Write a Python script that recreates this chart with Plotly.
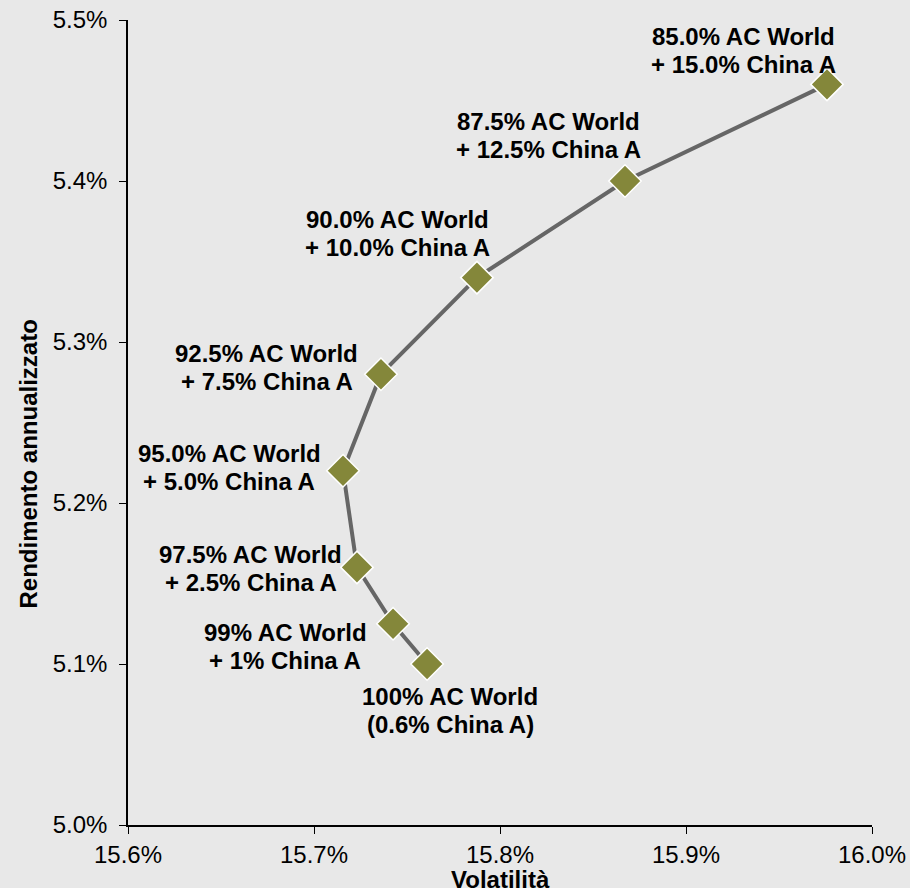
import plotly.graph_objects as go

# Portfolio mixes: AC World with a growing China A allocation
volatility = [15.9758, 15.8672, 15.7876, 15.7360, 15.7156, 15.7231, 15.7425, 15.7608]
returns = [5.460, 5.400, 5.340, 5.280, 5.220, 5.160, 5.125, 5.100]
labels = [
    "85.0% AC World<br>+ 15.0% China A",
    "87.5% AC World<br>+ 12.5% China A",
    "90.0% AC World<br>+ 10.0% China A",
    "92.5% AC World<br>+ 7.5% China A",
    "95.0% AC World<br>+ 5.0% China A",
    "97.5% AC World<br>+ 2.5% China A",
    "99% AC World<br>+ 1% China A",
    "100% AC World<br>(0.6% China A)",
]
# label offsets in pixels from each marker (centre of the two-line block)
label_dx = [-83, -76, -79, -114, -114, -106, -108, 23]
label_dy = [34, 46, 44, 7, 3, -1, -23, -46]
LINE_GAP = 28  # pixels between the two label lines

x_ticks = [15.6, 15.7, 15.8, 15.9, 16.0]
y_ticks = [5.0, 5.1, 5.2, 5.3, 5.4, 5.5]

FONT = "Arial"
text_font = dict(family=FONT, size=24, color="black")

fig = go.Figure()
fig.add_trace(go.Scatter(
    x=volatility, y=returns, mode="lines+markers",
    line=dict(color="#666666", width=4),
    marker=dict(symbol="diamond", size=25, color="#84873A",
                line=dict(color="white", width=1.5)),
    hoverinfo="skip",
))

for x, y, t, dx, dy in zip(volatility, returns, labels, label_dx, label_dy):
    for i, line in enumerate(t.split("<br>")):
        fig.add_annotation(
            x=x, y=y, text=f"<b>{line}</b>", showarrow=False,
            xshift=dx, yshift=dy + LINE_GAP / 2 - i * LINE_GAP,
            xanchor="center", yanchor="middle", font=text_font,
        )

# axis titles
fig.add_annotation(
    xref="paper", yref="paper", x=0, y=0.5, xshift=-100, yshift=-42,
    text="<b>Rendimento annualizzato</b>", textangle=-90, showarrow=False,
    xanchor="center", yanchor="middle", font=text_font,
)
fig.add_annotation(
    xref="paper", yref="paper", x=0.5, y=0, yshift=-54,
    text="<b>Volatilità</b>", showarrow=False,
    xanchor="center", yanchor="middle", font=text_font,
)

axis_common = dict(
    showgrid=False, zeroline=False, showline=True, linecolor="black",
    linewidth=1.5, ticks="outside", ticklen=7, tickcolor="black",
    tickfont=text_font, automargin=False,
)
fig.update_layout(
    width=910, height=888,
    paper_bgcolor="#E8E8E8", plot_bgcolor="#E8E8E8",
    margin=dict(l=128, r=38, t=20, b=63),
    showlegend=False,
    xaxis=dict(
        range=[15.6, 16.0], tickvals=x_ticks,
        ticktext=[f"{v:.1f}%" for v in x_ticks],
        ticklabelstandoff=0, **axis_common,
    ),
    yaxis=dict(
        range=[5.0, 5.5], tickvals=y_ticks,
        ticktext=[f"{v:.1f}%" for v in y_ticks],
        ticklabelstandoff=7, **axis_common,
    ),
)

fig.write_html("out.html")
